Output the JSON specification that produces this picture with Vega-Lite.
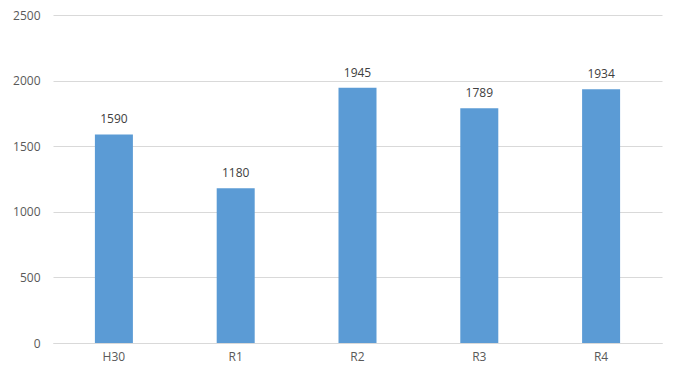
{
  "$schema": "https://vega.github.io/schema/vega-lite/v6.json",
  "width": 609,
  "height": 328,
  "autosize": {"type": "none"},
  "padding": {"left": 53, "top": 15, "right": 13, "bottom": 36},
  "background": "white",
  "config": {
    "view": {"stroke": null},
    "font": "Open Sans",
    "axis": {"labelFont": "Open Sans", "labelFontSize": 12, "labelColor": "#595959", "ticks": false, "domain": false, "title": null}
  },
  "data": {"values": [
    {"year": "H30", "value": 1590},
    {"year": "R1", "value": 1180},
    {"year": "R2", "value": 1945},
    {"year": "R3", "value": 1789},
    {"year": "R4", "value": 1934}
  ]},
  "encoding": {
    "x": {"field": "year", "type": "nominal", "sort": null,
      "scale": {"paddingInner": 0, "paddingOuter": 0},
      "axis": {"labelAngle": 0, "labelPadding": 8, "domain": true, "domainColor": "#d9d9d9", "grid": false}},
    "y": {"field": "value", "type": "quantitative",
      "scale": {"domain": [0, 2500], "nice": false},
      "axis": {"values": [0, 500, 1000, 1500, 2000, 2500], "format": "d", "gridColor": "#d9d9d9", "labelPadding": 13}}
  },
  "layer": [
    {"mark": {"type": "bar", "color": "#5B9BD5", "size": 38}},
    {"mark": {"type": "text", "dy": -15, "fontSize": 12, "color": "#404040"},
     "encoding": {"text": {"field": "value", "type": "quantitative", "format": "d"}}}
  ]
}
